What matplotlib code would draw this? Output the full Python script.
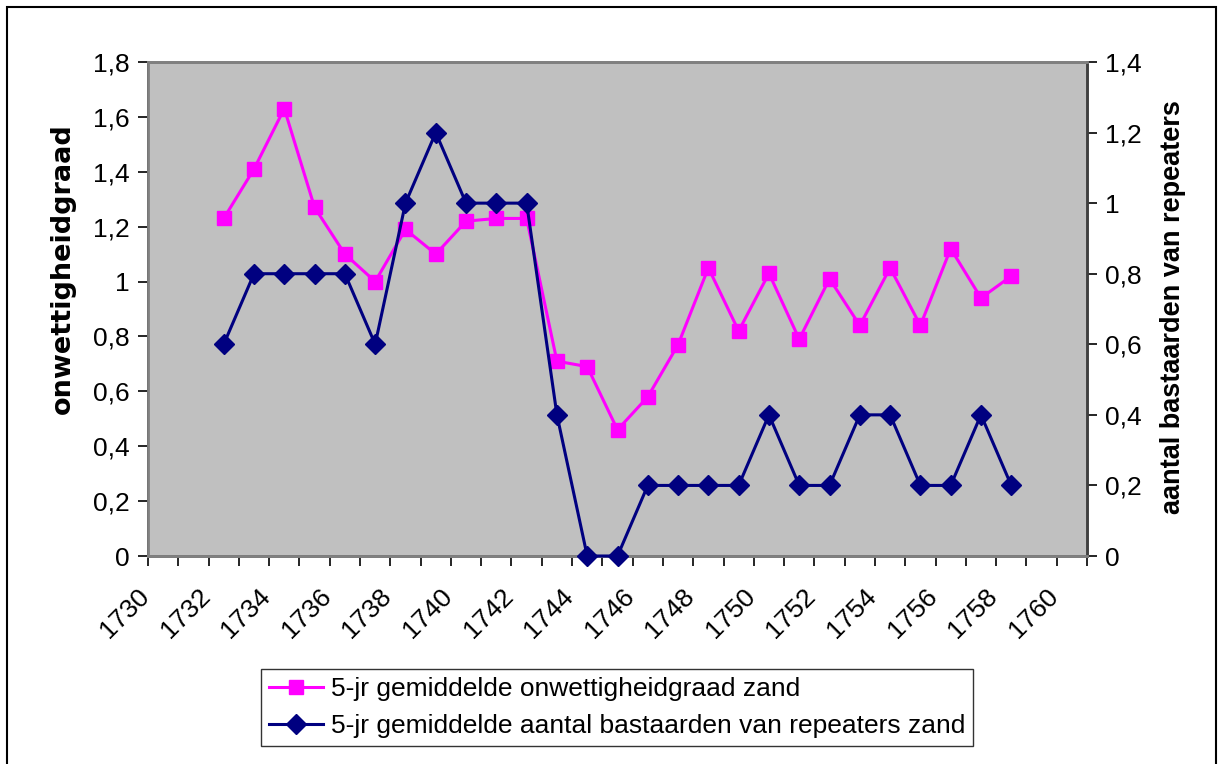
import matplotlib
matplotlib.use("Agg")
import matplotlib.pyplot as plt
import matplotlib.transforms as mtransforms
from matplotlib.patches import Rectangle
from matplotlib.ticker import FixedLocator, FuncFormatter, MultipleLocator

plt.rcParams["font.family"] = ["Liberation Sans", "DejaVu Sans"]

# ----------------------------------------------------------------------------------------------
# Data
# ----------------------------------------------------------------------------------------------
categories = list(range(1730, 1761))
years = list(range(1732, 1759))

# 5-jr gemiddelde onwettigheidgraad zand (left axis)
onwettigheid = [1.23, 1.41, 1.63, 1.27, 1.10, 1.00, 1.19, 1.10, 1.22, 1.23, 1.23,
                0.71, 0.69, 0.46, 0.58, 0.77, 1.05, 0.82, 1.03, 0.79, 1.01,
                0.84, 1.05, 0.84, 1.12, 0.94, 1.02]

# 5-jr gemiddelde aantal bastaarden van repeaters zand (right axis)
bastaarden = [0.6, 0.8, 0.8, 0.8, 0.8, 0.6, 1.0, 1.2, 1.0, 1.0, 1.0,
              0.4, 0.0, 0.0, 0.2, 0.2, 0.2, 0.2, 0.4, 0.2, 0.2,
              0.4, 0.4, 0.2, 0.2, 0.4, 0.2]

label_pink = "5-jr gemiddelde onwettigheidgraad zand"
label_blue = "5-jr gemiddelde aantal bastaarden van repeaters zand"

# ----------------------------------------------------------------------------------------------
# Figure
# ----------------------------------------------------------------------------------------------
fig = plt.figure(figsize=(12.23, 7.64), dpi=100)
fig.patch.set_facecolor("white")

ax = fig.add_axes([148 / 1223, 1 - 556 / 764, (1087 - 148) / 1223, (556 - 62) / 764])
ax.set_facecolor("#C0C0C0")
ax2 = ax.twinx()

# category positions
x_pos = [categories.index(y) for y in years]

(l1,) = ax.plot(x_pos, onwettigheid, color="#FF00FF", lw=2.2, marker="s",
                markersize=9.5, markerfacecolor="#FF00FF", markeredgecolor="#FF00FF",
                label=label_pink, zorder=3)
(l2,) = ax2.plot(x_pos, bastaarden, color="#000080", lw=2.2, marker="D",
                 markersize=10, markerfacecolor="#000080", markeredgecolor="#000080",
                 label=label_blue, zorder=3, clip_on=False)

ax.set_xlim(-0.5, len(categories) - 0.5)
ax.set_ylim(0, 1.8)
ax2.set_ylim(0, 1.4)


def comma_fmt(v, pos):
    s = f"{v:.1f}".rstrip("0").rstrip(".")
    return s.replace(".", ",")


ax.yaxis.set_major_locator(MultipleLocator(0.2))
ax2.yaxis.set_major_locator(MultipleLocator(0.2))
ax.yaxis.set_major_formatter(FuncFormatter(comma_fmt))
ax2.yaxis.set_major_formatter(FuncFormatter(comma_fmt))

# x axis: tick marks between categories, labels every 2 years
ax.xaxis.set_minor_locator(FixedLocator([i - 0.5 for i in range(len(categories) + 1)]))
label_idx = [i for i, c in enumerate(categories) if c % 2 == 0]
ax.xaxis.set_major_locator(FixedLocator(label_idx))
ax.set_xticklabels([str(categories[i]) for i in label_idx])
ax.tick_params(axis="x", which="major", length=0, pad=20, labelsize=19)
ax.tick_params(axis="x", which="minor", length=7, width=1.2, color="black", direction="out")
offset = mtransforms.ScaledTranslation(-0.09, 0, fig.dpi_scale_trans)
for lab in ax.get_xticklabels():
    lab.set_rotation(45)
    lab.set_ha("right")
    lab.set_va("top")
    lab.set_transform(lab.get_transform() + offset)

ax.tick_params(axis="y", length=7, width=1.2, pad=6, labelsize=19, direction="out")
ax2.tick_params(axis="y", length=7, width=1.2, pad=6, labelsize=19, direction="out")

for a in (ax, ax2):
    for s in a.spines.values():
        s.set_color("#808080")
        s.set_linewidth(2)
ax.spines["left"].set_color("black")
ax.spines["left"].set_linewidth(1.2)
ax.spines["bottom"].set_color("#606060")
ax2.spines["right"].set_color("#404040")

ax.set_ylabel("onwettigheidgraad", fontsize=19.5, fontweight="bold",
              family="DejaVu Sans")
ax.yaxis.set_label_coords(76 / 1223, 1 - 269 / 764, transform=fig.transFigure)
ax2.set_ylabel("aantal bastaarden van repeaters", fontsize=19.5, fontweight="bold",
               rotation=90)
ax2.yaxis.set_label_coords(1160 / 1223, 1 - 307 / 764, transform=fig.transFigure)

leg = fig.legend(handles=[l1, l2], loc="center", bbox_to_anchor=(0.5045, 0.074),
                 fontsize=19, frameon=True, fancybox=False, edgecolor="black",
                 handlelength=2.05, handletextpad=0.3, borderpad=0.3,
                 labelspacing=0.5, borderaxespad=0)
leg.get_frame().set_linewidth(1.0)

# outer chart border
fig.patches.append(Rectangle((7 / 1223, -0.05), (1216 - 7) / 1223, 1.05 - 7 / 764,
                             transform=fig.transFigure, fill=False,
                             edgecolor="black", lw=1.5))

fig.savefig("out.png", dpi=100)
